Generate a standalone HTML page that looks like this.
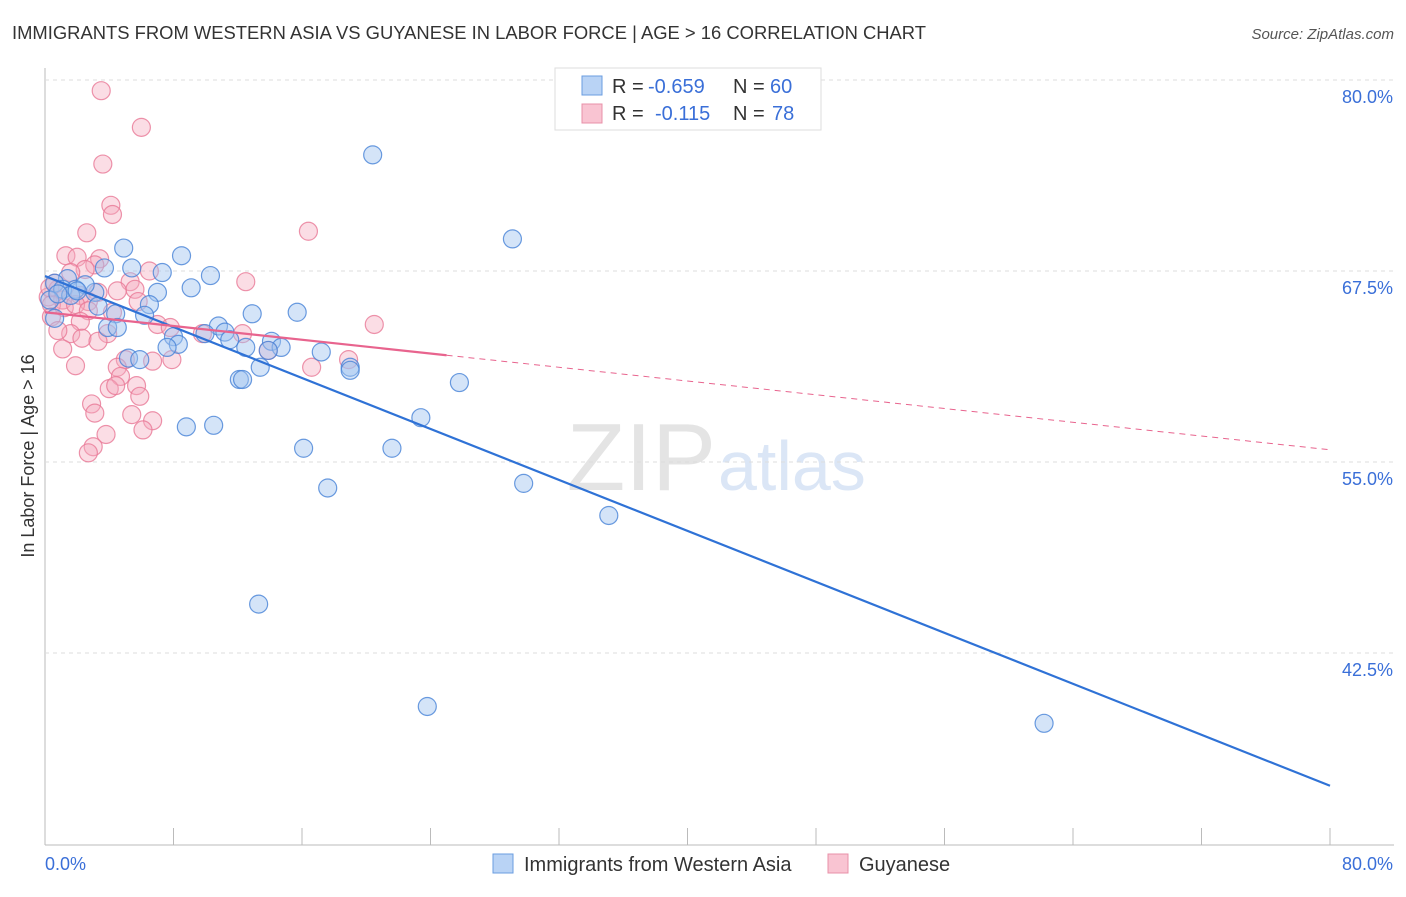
<!DOCTYPE html>
<html><head><meta charset="utf-8"><style>
body{margin:0;background:#fff;font-family:"Liberation Sans",sans-serif}
svg text{font-family:"Liberation Sans",sans-serif}
</style></head><body>
<svg id="chart" width="1406" height="892" xmlns="http://www.w3.org/2000/svg">
<text x="12" y="39" font-size="18" fill="#333" textLength="914" lengthAdjust="spacingAndGlyphs">IMMIGRANTS FROM WESTERN ASIA VS GUYANESE IN LABOR FORCE | AGE &gt; 16 CORRELATION CHART</text>
<text x="1394" y="39" font-size="15" fill="#555" font-style="italic" text-anchor="end">Source: ZipAtlas.com</text>
<text x="716" y="490" font-size="96" fill="#e4e4e4" text-anchor="end" font-family="Liberation Serif">ZIP</text>
<text x="718" y="490" font-size="70" fill="#dbe6f6">atlas</text>
<text transform="translate(34,456) rotate(-90)" font-size="18" fill="#333" text-anchor="middle">In Labor Force | Age &gt; 16</text>
<g id="grid"></g><g id="pts"></g><g id="lines"></g>
<g>
<rect x="555" y="68" width="266" height="62" fill="#fff" stroke="#ddd"/>
<rect x="582" y="76" width="20" height="19" fill="#b9d3f5" stroke="#6a9ce0"/>
<rect x="582" y="104" width="20" height="19" fill="#f9c4d2" stroke="#e890a8"/>
<text y="93" font-size="20" fill="#333"><tspan x="612">R =</tspan><tspan x="648" fill="#3a6fd8">-0.659</tspan><tspan x="733">N =</tspan><tspan x="770" fill="#3a6fd8">60</tspan></text>
<text y="120" font-size="20" fill="#333"><tspan x="612">R =</tspan><tspan x="655" fill="#3a6fd8">-0.115</tspan><tspan x="733">N =</tspan><tspan x="772" fill="#3a6fd8">78</tspan></text>
</g>
<g>
<rect x="493" y="854" width="20" height="19" fill="#b9d3f5" stroke="#6a9ce0"/>
<text x="524" y="871" font-size="20" fill="#333">Immigrants from Western Asia</text>
<rect x="828" y="854" width="20" height="19" fill="#f9c4d2" stroke="#e890a8"/>
<text x="859" y="871" font-size="20" fill="#333">Guyanese</text>
</g>
</svg>
<script>
const xTicks=[0,10,20,30,40,50,60,70,80];
const yTicks=[80,67.5,55,42.5];
const yTickLabels=["80.0%","67.5%","55.0%","42.5%"];
const blueX=[20.4,29.1,4.9,8.5,5.4,7.3,10.3,3.7,1.4,0.6,9.1,7.0,3.1,1.9,1.1,6.5,3.3,6.2,15.7,12.9,4.4,0.6,10.8,3.9,4.5,11.2,9.96,8.0,11.5,8.3,7.6,12.5,14.1,14.7,13.9,17.2,5.2,5.9,13.4,19.0,19.0,12.1,12.3,25.8,23.4,8.8,10.5,16.1,21.6,17.6,29.8,35.1,13.3,23.8,62.2,0.3,2.5,1.6,0.8,2.0];
const blueY=[75.1,69.6,69.0,68.5,67.7,67.4,67.2,67.7,67.0,66.7,66.4,66.1,66.1,66.3,66.3,65.3,65.2,64.6,64.8,64.7,64.7,64.4,63.9,63.8,63.8,63.5,63.4,63.2,63.0,62.7,62.5,62.5,62.9,62.5,62.3,62.2,61.8,61.7,61.2,61.2,61.0,60.4,60.4,60.2,57.9,57.3,57.4,55.9,55.9,53.3,53.6,51.5,45.7,39.0,37.9,65.6,66.6,65.9,66.0,66.2];
const pinkX=[3.5,6.0,3.6,4.1,4.2,16.4,2.6,1.3,2.0,3.4,3.1,2.5,6.5,1.6,12.5,5.3,0.6,0.8,5.6,4.5,3.3,2.2,0.2,1.1,2.7,0.4,1.2,1.9,4.2,2.7,0.4,2.2,20.5,7.0,9.8,12.3,1.6,0.8,3.9,2.3,3.3,1.1,13.9,7.9,6.7,5.0,18.9,4.5,1.9,16.6,4.7,5.7,4.0,4.4,5.9,2.9,3.1,5.4,6.7,6.1,3.8,3.0,2.7,7.8,5.8,0.3];
const pinkY=[79.3,76.9,74.5,71.8,71.2,70.1,70.0,68.5,68.4,68.3,67.9,67.6,67.5,67.4,66.8,66.8,66.7,66.3,66.3,66.2,66.1,65.9,65.8,65.6,65.5,65.3,65.1,65.3,64.8,64.9,64.5,64.2,64.0,64.0,63.4,63.4,63.4,63.6,63.4,63.1,62.9,62.4,62.3,61.7,61.6,61.7,61.7,61.2,61.3,61.2,60.6,60.0,59.8,60.0,59.3,58.8,58.2,58.1,57.7,57.1,56.8,56.0,55.6,63.8,65.5,66.4];
const blueTrend=[67.17,-0.417];
const pinkTrend=[64.8,-0.1125];
const pinkSolidEnd=25;
const X=v=>45+v/80*1285, Y=v=>80+(80-v)*15.28;
const NS="http://www.w3.org/2000/svg";
function mk(tag,at,parent){const e=document.createElementNS(NS,tag);for(const k in at)e.setAttribute(k,at[k]);document.getElementById(parent).appendChild(e);return e;}
let e=mk('line',{x1:45,y1:68,x2:45,y2:845,stroke:'#bbb'},'grid');


e=mk('line',{x1:45,y1:845,x2:1394,y2:845,stroke:'#bbb'},'grid');


yTicks.forEach((t,i)=>{
 let g=mk('line',{x1:45,y1:Y(t),x2:1394,y2:Y(t),stroke:'#ddd','stroke-dasharray':'4,4'},'grid');
 
 
 let l=mk('text',{x:1393,y:Y(t)+23,'font-size':18,fill:'#3a6fd8','text-anchor':'end'},'grid');l.textContent=yTickLabels[i];
 
 
});
for(let i=0;i<=10;i++){let v=i*8;let t=mk('line',{x1:X(v),y1:828,x2:X(v),y2:845,stroke:'#bbb'},'grid');
 
 }
let a=mk('text',{x:45,y:870,'font-size':18,fill:'#3a6fd8'},'grid');a.textContent='0.0%';


a=mk('text',{x:1393,y:870,'font-size':18,fill:'#3a6fd8','text-anchor':'end'},'grid');a.textContent='80.0%';


pinkX.forEach((x,i)=>{let c=mk('circle',{cx:X(x),cy:Y(pinkY[i]),r:9,fill:'rgba(246,170,190,0.4)',stroke:'rgba(232,120,150,0.8)','stroke-width':1.2},'pts');
 
 });
blueX.forEach((x,i)=>{let c=mk('circle',{cx:X(x),cy:Y(blueY[i]),r:9,fill:'rgba(160,195,240,0.45)',stroke:'rgba(70,130,215,0.8)','stroke-width':1.2},'pts');
 
 });
let b=mk('line',{x1:X(0),y1:Y(blueTrend[0]),x2:X(80),y2:Y(blueTrend[0]+80*blueTrend[1]),stroke:'#2f72d6','stroke-width':2.2},'lines');


let p=mk('line',{x1:X(0),y1:Y(pinkTrend[0]),x2:X(pinkSolidEnd),y2:Y(pinkTrend[0]+pinkSolidEnd*pinkTrend[1]),stroke:'#e8648e','stroke-width':2.2},'lines');


let d=mk('line',{x1:X(pinkSolidEnd),y1:Y(pinkTrend[0]+pinkSolidEnd*pinkTrend[1]),x2:X(80),y2:Y(pinkTrend[0]+80*pinkTrend[1]),stroke:'#e8648e','stroke-width':1,'stroke-dasharray':'6,5'},'lines');


</script>
</body></html>
